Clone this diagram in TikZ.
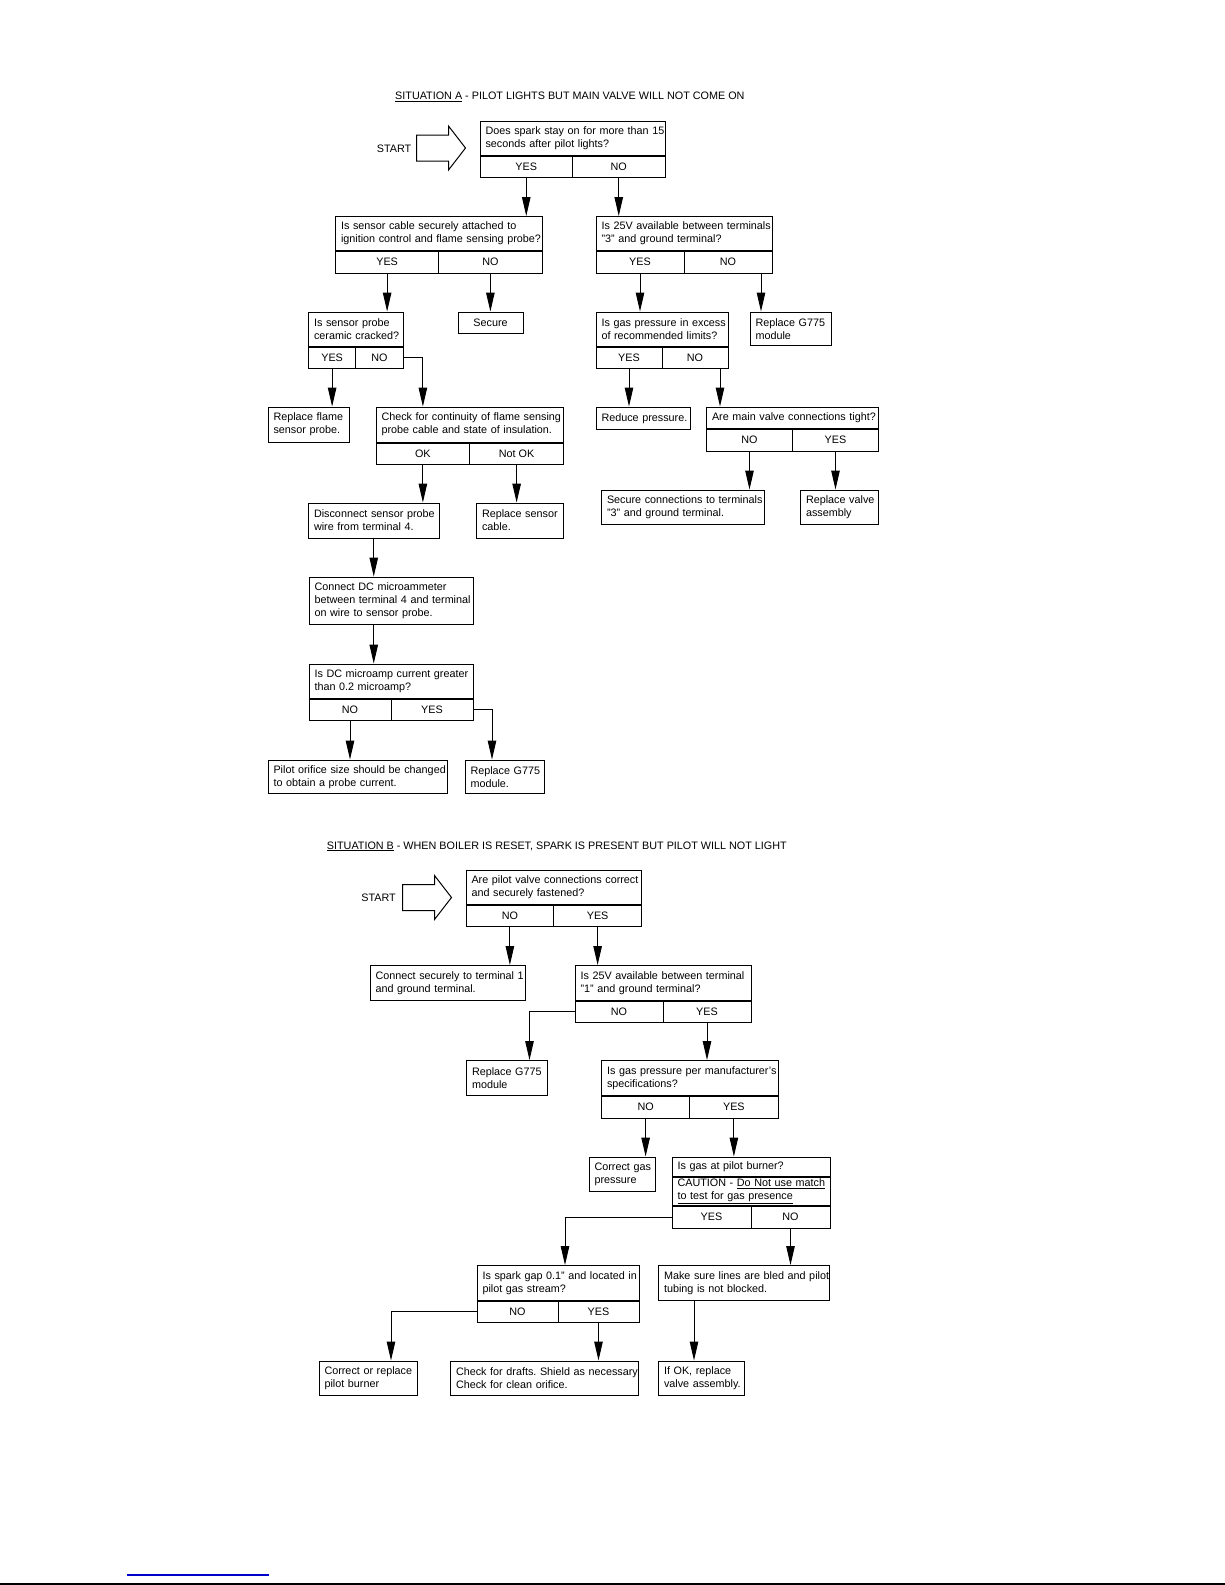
\documentclass[tikz,border=0pt]{standalone}
\usepackage{fontspec}
\setmainfont{Liberation Sans}
\frenchspacing
\usetikzlibrary{arrows.meta}
\definecolor{linkblue}{RGB}{0,0,204}
\tikzset{
  txt/.style={font=\fontsize{10.8}{13}\selectfont},
  qbox/.style={txt,draw,line width=1pt,anchor=north west,align=left,inner xsep=5.5pt,inner ysep=0pt,
    execute at begin node={\rightskip=0pt plus 1fil minus 40pt\hyphenpenalty=10000\relax}},
  ans/.style={txt,draw,line width=1pt,inner sep=0pt,minimum height=21.5pt,align=center},
  arr/.style={line width=1pt,-{Triangle[length=19pt,width=8.5pt]}}
}
\begin{document}
\begin{tikzpicture}[x=1pt,y=-1pt]
        \fill[white](0,0) rectangle(1225,1585);
        \useasboundingbox(0,0) rectangle(1225,1585);
        %situazione A
        \node[txt,anchor=base west,inner sep=0](titlea) at (395,99.6)
          {\underline{SITUATION A} - PILOT LIGHTS BUT MAIN VALVE WILL NOT COME ON};
        \node[txt,anchor=east,inner sep=0](starta) at (411.5,148.5){START};
        \draw[line width=1pt](416.5,135) --
          ++(32,0) -- ++(0,-9) -- ++(17,22) -- ++(-17,22) -- ++(0,-9) -- ++(-32,0) -- cycle;
        %spark
        \node[qbox,text width=174pt,minimum height=34pt](spark) at (479.5,120.5)
          {Does spark stay on for more than 15\\seconds after pilot lights?};
        \node[ans,minimum width=92.5pt,anchor=north west](sparkyes) at (spark.south west){YES};
        \node[ans,minimum width=92.5pt,anchor=north east](sparkno) at (spark.south east){NO};
        %cable
        \node[qbox,text width=195.5pt,minimum height=34pt](cable) at (335,216)
          {Is sensor cable securely attached to\\ignition control and flame sensing probe?};
        \node[ans,minimum width=103.25pt,anchor=north west](cableyes) at (cable.south west){YES};
        \node[ans,minimum width=103.25pt,anchor=north east](cableno) at (cable.south east){NO};
        %25V terminale 3
        \node[qbox,text width=165pt,minimum height=34pt](volt3) at (595.5,216)
          {Is 25V available between terminals\\"3" and ground terminal?};
        \node[ans,minimum width=88pt,anchor=north west](volt3yes) at (volt3.south west){YES};
        \node[ans,minimum width=88pt,anchor=north east](volt3no) at (volt3.south east){NO};
        %ceramica
        \node[qbox,text width=83.5pt,minimum height=34pt](cracked) at (308,311.5)
          {Is sensor probe\\ceramic cracked?};
        \node[ans,minimum width=47.25pt,anchor=north west](crackedyes) at (cracked.south west){YES};
        \node[ans,minimum width=47.25pt,anchor=north east](crackedno) at (cracked.south east){NO};
        \node[ans,minimum width=65pt,anchor=north west](secure) at (457.5,311.5){Secure};
        %pressione
        \node[qbox,text width=121pt,minimum height=34pt](gas) at (595.5,311.5)
          {Is gas pressure in excess\\of recommended limits?};
        \node[ans,minimum width=66pt,anchor=north west](gasyes) at (gas.south west){YES};
        \node[ans,minimum width=66pt,anchor=north east](gasno) at (gas.south east){NO};
        \node[qbox,text width=70pt,minimum height=33.5pt](g775a) at (749.5,311.5){Replace G775\\module};
        %sonda
        \node[qbox,text width=70pt,minimum height=35pt](flame) at (267.5,406.5){Replace flame\\sensor probe.};
        \node[qbox,text width=176.5pt,minimum height=35pt](check) at (375.5,406.5)
          {Check for continuity of flame sensing\\probe cable and state of insulation.};
        \node[ans,minimum width=93.75pt,anchor=north west](checkok) at (check.south west){OK};
        \node[ans,minimum width=93.75pt,anchor=north east](checknot) at (check.south east){Not OK};
        \node[qbox,text width=83pt,minimum height=22.5pt](reduce) at (595.5,406.5){Reduce pressure.};
        %valvola
        \node[qbox,text width=161pt,minimum height=21.5pt](tight) at (706,406.5)
          {Are main valve connections tight?};
        \node[ans,minimum width=86pt,anchor=north west](tightno) at (tight.south west){NO};
        \node[ans,minimum width=86pt,anchor=north east](tightyes) at (tight.south east){YES};
        \node[qbox,text width=152pt,minimum height=34pt](secure3) at (601,489.5)
          {Secure connections to terminals\\"3" and ground terminal.};
        \node[qbox,text width=67pt,minimum height=34pt](valve) at (800,489.5){Replace valve\\assembly};
        \node[qbox,text width=119.5pt,minimum height=35pt](disconnect) at (308,502.5)
          {Disconnect sensor probe\\wire from terminal 4.};
        \node[qbox,text width=76pt,minimum height=35pt](cable2) at (476,502.5){Replace sensor\\cable.};
        %microamperometro
        \node[qbox,text width=153pt,minimum height=47pt](connectdc) at (308.5,576.5)
          {Connect DC microammeter\\between terminal 4 and terminal\\on wire to sensor probe.};
        \node[qbox,text width=153pt,minimum height=34pt](dcamp) at (308.5,663.5)
          {Is DC microamp current greater\\than 0.2 microamp?};
        \node[ans,minimum width=82pt,anchor=north west](dcampno) at (dcamp.south west){NO};
        \node[ans,minimum width=82pt,anchor=north east](dcampyes) at (dcamp.south east){YES};
        \node[qbox,text width=168pt,minimum height=33.5pt](orifice) at (267.5,759.5)
          {Pilot orifice size should be changed\\to obtain a probe current.};
        \node[qbox,text width=68pt,minimum height=33.5pt](g775b) at (464.5,759.5){Replace G775\\module.};
        %frecce A
        \draw[arr](sparkyes.south) -- (sparkyes.south |- cable.north);
        \draw[arr](sparkno.south) -- (sparkno.south |- volt3.north);
        \draw[arr](cableyes.south) -- (cableyes.south |- cracked.north);
        \draw[arr](cableno.south) -- (cableno.south |- secure.north);
        \draw[arr](volt3yes.south) -- (volt3yes.south |- gas.north);
        \draw[arr]([xshift=33pt]volt3no.south) -- ([xshift=33pt]volt3no.south |- g775a.north);
        \draw[arr](crackedyes.south) -- (crackedyes.south |- flame.north);
        \draw[arr](crackedno.east) -| (checkok.north |- check.north);
        \draw[arr](gasyes.south) -- (gasyes.south |- reduce.north);
        \draw[arr]([xshift=25pt]gasno.south) -- ([xshift=25pt]gasno.south |- tight.north);
        \draw[arr](checkok.south) -- (checkok.south |- disconnect.north);
        \draw[arr](checknot.south) -- (checknot.south |- cable2.north);
        \draw[arr](tightno.south) -- (tightno.south |- secure3.north);
        \draw[arr](tightyes.south) -- (tightyes.south |- valve.north);
        \draw[arr](disconnect.south) -- (disconnect.south |- connectdc.north);
        \draw[arr](disconnect.south |- connectdc.south) -- (disconnect.south |- dcamp.north);
        \draw[arr](dcampno.south) -- (dcampno.south |- orifice.north);
        \draw[arr](dcampyes.east) -| ([xshift=27.5pt]g775b.north west);

        %situazione B
        \node[txt,anchor=base west,inner sep=0](titleb) at (326.7,849)
          {\underline{SITUATION B} - WHEN BOILER IS RESET, SPARK IS PRESENT BUT PILOT WILL NOT LIGHT};
        \node[txt,anchor=east,inner sep=0](startb) at (396,897.5){START};
        \draw[line width=1pt](402.5,884.5) --
          ++(32,0) -- ++(0,-9) -- ++(17,22) -- ++(-17,22) -- ++(0,-9) -- ++(-32,0) -- cycle;
        %valvola pilota
        \node[qbox,text width=164.5pt,minimum height=34pt](pilotv) at (465.5,869.5)
          {Are pilot valve connections correct\\and securely fastened?};
        \node[ans,minimum width=87.75pt,anchor=north west](pilotvno) at (pilotv.south west){NO};
        \node[ans,minimum width=87.75pt,anchor=north east](pilotvyes) at (pilotv.south east){YES};
        \node[qbox,text width=144pt,minimum height=34.5pt](connect1) at (369.5,965)
          {Connect securely to terminal 1\\and ground terminal.};
        %25V terminale 1
        \node[qbox,text width=165pt,minimum height=34.5pt](volt1) at (574.5,965)
          {Is 25V available between terminal\\"1" and ground terminal?};
        \node[ans,minimum width=88pt,anchor=north west](volt1no) at (volt1.south west){NO};
        \node[ans,minimum width=88pt,anchor=north east](volt1yes) at (volt1.south east){YES};
        \node[qbox,text width=69.5pt,minimum height=34.5pt](g775c) at (466,1060){Replace G775\\module};
        %pressione
        \node[qbox,text width=165.5pt,minimum height=35pt](gasspec) at (601,1060)
          {Is gas pressure per manufacturer's\\specifications?};
        \node[ans,minimum width=88.25pt,anchor=north west](gasspecno) at (gasspec.south west){NO};
        \node[ans,minimum width=88.25pt,anchor=north east](gasspecyes) at (gasspec.south east){YES};
        \node[qbox,text width=55.5pt,minimum height=34pt](correctgas) at (588.5,1156.5){Correct gas\\pressure};
        %gas al bruciatore
        \node[qbox,text width=147pt,minimum height=19pt](pilotgas) at (671.5,1156.5){Is gas at pilot burner?};
        \node[qbox,text width=147pt,minimum height=28.5pt](caution) at (pilotgas.south west)
          {CAUTION - \underline{Do Not use match}\\\underline{to test for gas presence}};
        \node[ans,minimum width=79pt,anchor=north west](pilotgasyes) at (caution.south west){YES};
        \node[ans,minimum width=79pt,anchor=north east](pilotgasno) at (caution.south east){NO};
        %scintilla
        \node[qbox,text width=151pt,minimum height=34.5pt](gap) at (476.5,1265)
          {Is spark gap 0.1" and located in\\pilot gas stream?};
        \node[ans,minimum width=81pt,anchor=north west](gapno) at (gap.south west){NO};
        \node[ans,minimum width=81pt,anchor=north east](gapyes) at (gap.south east){YES};
        \node[qbox,text width=160pt,minimum height=34.5pt](bled) at (658,1265)
          {Make sure lines are bled and pilot\\tubing is not blocked.};
        \node[qbox,text width=87pt,minimum height=34.5pt](burner) at (318.5,1360.5){Correct or replace\\pilot burner};
        \node[qbox,text width=176.5pt,minimum height=34.5pt](drafts) at (450,1360.5)
          {Check for drafts. Shield as necessary.\\Check for clean orifice.};
        \node[qbox,text width=75pt,minimum height=34.5pt](okvalve) at (658,1360.5){If OK, replace\\valve assembly.};
        %frecce B
        \draw[arr](pilotvno.south) -- (pilotvno.south |- connect1.north);
        \draw[arr](pilotvyes.south) -- (pilotvyes.south |- volt1.north);
        \draw[arr](volt1no.west) -| ([xshift=63.5pt]g775c.north west);
        \draw[arr](volt1yes.south) -- (volt1yes.south |- gasspec.north);
        \draw[arr](gasspecno.south) -- (gasspecno.south |- correctgas.north);
        \draw[arr](gasspecyes.south) -- (gasspecyes.south |- pilotgas.north);
        \draw[arr](pilotgasyes.west) -| ([xshift=88.5pt]gap.north west);
        \draw[arr](pilotgasno.south) -- (pilotgasno.south |- bled.north);
        \draw[arr]([xshift=36pt]bled.south west) -- ([xshift=36pt]bled.south west |- okvalve.north);
        \draw[arr](gapno.west) -| ([xshift=72.5pt]burner.north west);
        \draw[arr](gapyes.south) -- (gapyes.south |- drafts.north);

        %fondo pagina
        \draw[linkblue,line width=1.5pt](127.3,1575) -- (268.7,1575);
        \draw[line width=1.5pt](0,1584) -- (1225,1584);
    \end{tikzpicture}
\end{document}
